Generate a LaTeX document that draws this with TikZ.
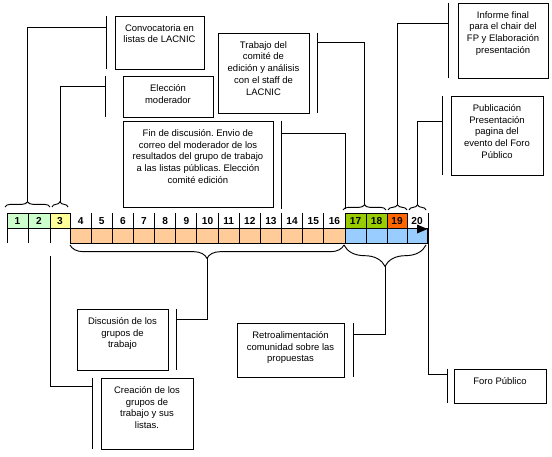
\documentclass[tikz,border=0pt]{standalone}
\usepackage{fontspec}
\setmainfont{Liberation Sans}
\usetikzlibrary{fit,calc,decorations.pathreplacing}
\definecolor{verdeclaro}{HTML}{CCFFCC}
\definecolor{amarillo}{HTML}{FFFF99}
\definecolor{naranjaclaro}{HTML}{FFCC99}
\definecolor{celeste}{HTML}{99CCFF}
\definecolor{verdelima}{HTML}{99CC00}
\definecolor{naranja}{HTML}{FF6600}
\frenchspacing

\begin{document}
\begin{tikzpicture}[x=0.75pt,y=-0.75pt,line width=0.7pt,
  caja/.style={draw, inner sep=0pt},
  texto/.style={anchor=north, inner sep=0pt, align=center, font=\fontsize{7.1}{8.8}\selectfont, yshift=-6.3pt},
  num/.style={font=\fontsize{7.6}{8}\selectfont\bfseries, inner sep=0pt},
  llave/.style={decorate, decoration={brace, amplitude=#1}},
  llave/.default=4pt]
\useasboundingbox (0,0) rectangle (552,456);

% linea de tiempo
\filldraw[fill=verdeclaro] (7,213) rectangle (50,228);
\filldraw[fill=amarillo] (50,213) rectangle (70,228);
\filldraw[fill=naranjaclaro] (70,228) rectangle (345,243);
\filldraw[fill=celeste] (345,228) rectangle (427,243);
\filldraw[fill=verdelima] (345,213) rectangle (387,228);
\filldraw[fill=naranja] (387,213) rectangle (407,228);
\foreach \n/\xa/\xb in {1/7/28,2/28/50,3/50/70,4/70/91.2,5/91.2/112.3,6/112.3/133.5,
    7/133.5/154.6,8/154.6/175.8,9/175.8/196.9,10/196.9/218.1,11/218.1/239.2,
    12/239.2/260.4,13/260.4/281.5,14/281.5/302.7,15/302.7/323.8,16/323.8/345,
    17/345/366,18/366/387,19/387/407,20/407/427}{
  \draw (\xa,213) -- (\xa,243);
  \node[num] (c\n) at ({(\xa+\xb)/2},220.8) {\n};
}
\fill (417,224.5) -- (427.5,229) -- (417,233.5) -- cycle;

% llaves
\draw[llave] (5,207) -- (50,207);
\draw[llave] (52,207) -- (68,207);
\draw[llave] (343,210) -- (386,210);
\draw[llave] (388,210) -- (407,210);
\draw[llave] (409,210) -- (426,210);
\draw[llave=10pt] (344,245) -- (70,245);
\draw[llave=16pt] (426,245) -- (344,245);
\coordinate (p12) at (27.5,201.7);
\coordinate (p3) at (60,201.7);
\coordinate (p16) at (345,209);
\coordinate (p1718) at (364.5,204.7);
\coordinate (p19) at (397.5,204.7);
\coordinate (p20) at (417.5,204.7);
\coordinate (p416) at (207,258.3);
\coordinate (p1720) at (385,266.3);
\coordinate (s3) at (50,256);
\coordinate (s20) at (428,213);

% cajas
\node[caja, fit={(115,16) (204,69)}] (conv) {};
\node[texto] (conv-t) at (conv.north) {Convocatoria en\\listas de LACNIC};
\node[caja, fit={(123,76) (213,117)}] (elec) {};
\node[texto] (elec-t) at (elec.north) {Elección\\moderador};
\node[caja, fit={(218,33) (309,113)}] (trab) {};
\node[texto] (trab-t) at (trab.north) {Trabajo del\\comité de\\edición y análisis\\con el staff de\\LACNIC};
\node[caja, fit={(123,121) (273,207)}] (fin) {};
\node[texto] (fin-t) at (fin.north) {Fin de discusión. Envio de\\correo del moderador de los\\resultados del grupo de trabajo\\a las listas públicas. Elección\\comité edición};
\node[caja, fit={(458,3) (548,78)}] (info) {};
\node[texto] (info-t) at (info.north) {Informe final\\para el chair del\\FP y Elaboración\\presentación};
\node[caja, fit={(451,96) (543,175)}] (publ) {};
\node[texto] (publ-t) at (publ.north) {Publicación\\Presentación\\pagina del\\evento del Foro\\Público};
\node[caja, fit={(77,309) (168,370)}] (disc) {};
\node[texto] (disc-t) at (disc.north) {Discusión de los\\grupos de\\trabajo};
\node[caja, fit={(101,378) (193,449)}] (crea) {};
\node[texto] (crea-t) at (crea.north) {Creación de los\\grupos de\\trabajo y sus\\listas.};
\node[caja, fit={(237,323) (344,377)}] (retro) {};
\node[texto] (retro-t) at (retro.north) {Retroalimentación\\comunidad sobre las\\propuestas};
\node[caja, fit={(454,369) (546,403)}] (foro) {};
\node[texto] (foro-t) at (foro.north) {Foro Público};

% barras junto a las cajas
\draw ([xshift=-6pt]conv.north west) coordinate (conv-a) -- ([xshift=-6pt]conv.south west) coordinate (conv-b);
\draw ([xshift=-12.75pt]elec.north west) coordinate (elec-a) -- ([xshift=-12.75pt]elec.south west) coordinate (elec-b);
\draw ([xshift=6pt]trab.north east) coordinate (trab-a) -- ([xshift=6pt]trab.south east) coordinate (trab-b);
\draw ([xshift=6pt]fin.north east) coordinate (fin-a) -- ([xshift=6pt,yshift=-1.5pt]fin.south east) coordinate (fin-b);
\draw ([xshift=-6.75pt]info.north west) coordinate (info-a) -- ([xshift=-6.75pt]info.south west) coordinate (info-b);
\draw ([xshift=-6pt]publ.north west) coordinate (publ-a) -- ([xshift=-6pt]publ.south west) coordinate (publ-b);
\draw ([xshift=6pt]disc.north east) coordinate (disc-a) -- ([xshift=6pt]disc.south east) coordinate (disc-b);
\draw ([xshift=-6pt]crea.north west) coordinate (crea-a) -- ([xshift=-6pt]crea.south west) coordinate (crea-b);
\draw ([xshift=6.75pt]retro.north east) coordinate (retro-a) -- ([xshift=6.75pt]retro.south east) coordinate (retro-b);
\draw ([xshift=-4.5pt]foro.north west) coordinate (foro-a) -- ([xshift=-4.5pt]foro.south west) coordinate (foro-b);

% conectores
\draw (p12) |- ($(conv-a)!0.23!(conv-b)$);
\draw (p3) |- ($(elec-a)!0.27!(elec-b)$);
\draw ($(trab-a)!0.125!(trab-b)$) -| (p1718);
\draw ($(fin-a)!0.14!(fin-b)$) -| (p16);
\draw ($(info-a)!0.28!(info-b)$) -| (p19);
\draw ($(publ-a)!0.33!(publ-b)$) -| (p20);
\draw (p416) |- ($(disc-a)!0.18!(disc-b)$);
\draw (s3) |- ($(crea-a)!0.13!(crea-b)$);
\draw (p1720) |- ($(retro-a)!0.22!(retro-b)$);
\draw (s20) |- ($(foro-a)!0.18!(foro-b)$);
\end{tikzpicture}
\end{document}
